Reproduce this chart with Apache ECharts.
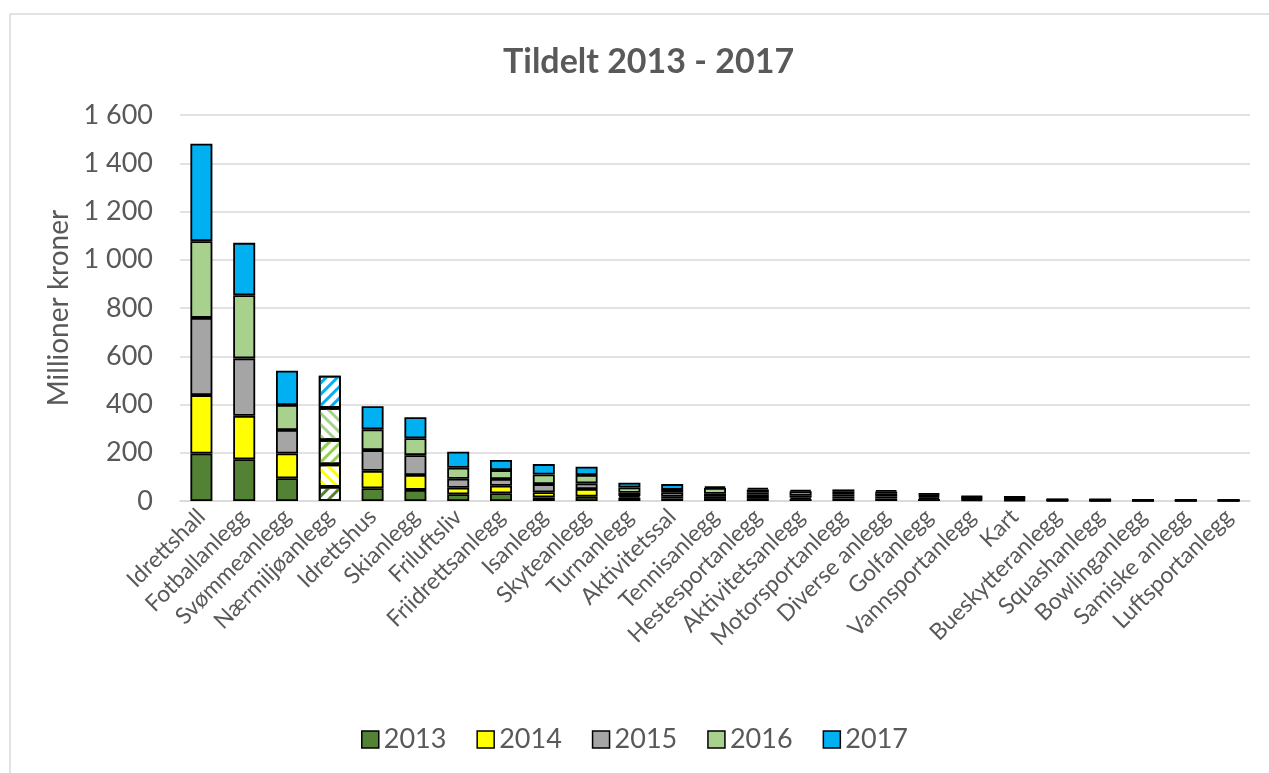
<!DOCTYPE html>
<html>
<head>
<meta charset="utf-8">
<script src="https://cdn.jsdelivr.net/npm/echarts@6/dist/echarts.min.js"></script>
<style>
html,body{margin:0;padding:0;background:#fff;}
#chart{width:1269px;height:773px;}
</style>
</head>
<body>
<div id="chart"></div>
<script>
const categories = ['Idrettshall','Fotballanlegg','Svømmeanlegg','Nærmiljøanlegg','Idrettshus','Skianlegg','Friluftsliv','Friidrettsanlegg','Isanlegg','Skyteanlegg','Turnanlegg','Aktivitetssal','Tennisanlegg','Hestesportanlegg','Aktivitetsanlegg','Motorsportanlegg','Diverse anlegg','Golfanlegg','Vannsportanlegg','Kart','Bueskytteranlegg','Squashanlegg','Bowlinganlegg','Samiske anlegg','Luftsportanlegg'];
const years = ['2013','2014','2015','2016','2017'];
const v2013 = [197,173,94,59,53,46,28,32,15,18,14,10,12,12,8,10,10,8,5,4,2,1,1,1,1];
const v2014 = [242,180,103,93,72,62,27,31,21,32,6,8,8,14,6,8,8,7,4,4,1,2,1,1,1];
const v2015 = [320,238,97,101,86,82,37,28,34,23,14,18,10,10,8,10,12,6,4,3,2,1,1,1,1];
const v2016 = [318,262,104,133,86,70,46,37,40,35,22,10,24,12,18,10,9,6,4,4,1,2,1,0.5,0.5];
const v2017 = [404,217,142,133,96,87,66,42,43,34,20,24,6,7,6,10,6,5,4,3,1,1,0.5,0.5,0.5];
const yTicks = [0,200,400,600,800,1000,1200,1400,1600];
const yTickLabels = ['0','200','400','600','800','1 000','1 200','1 400','1 600'];

const seriesValues = [v2013,v2014,v2015,v2016,v2017];
const colors = ['#548235','#FFFF00','#A5A5A5','#A9D18E','#00B0F0'];
// hatched (Nærmiljøanlegg) stripe colours and directions
const hatchColors = ['#548235','#FFFF00','#92D050','#A9D18E','#00B0F0'];
const hatchRot = [-Math.PI/4, Math.PI/4, -Math.PI/4, Math.PI/4, -Math.PI/4];
const hatchIndex = categories.indexOf('Nærmiljøanlegg');

const FONT = 'Lato';
const TXT = '#595959';

const series = years.map((y, si) => ({
  name: y,
  type: 'bar',
  stack: 'total',
  barWidth: 22,
  itemStyle: {color: colors[si], borderColor: '#000', borderWidth: 1.8},
  emphasis: {disabled: true},
  data: seriesValues[si].map((v, i) => {
    if (i !== hatchIndex) return v;
    return {
      value: v,
      itemStyle: {
        color: '#ffffff',
        decal: {
          symbol: 'rect',
          symbolSize: 1,
          color: hatchColors[si],
          dashArrayX: [1, 0],
          dashArrayY: [3, 5],
          rotation: hatchRot[si]
        }
      }
    };
  })
}));

const chart = echarts.init(document.getElementById('chart'), null, {renderer: 'canvas'});
chart.setOption({
  animation: false,
  backgroundColor: '#fff',
  textStyle: {fontFamily: FONT},
  graphic: [{
    type: 'rect',
    shape: {x: 10, y: 14, width: 1300, height: 800},
    style: {fill: 'none', stroke: '#d9d9d9', lineWidth: 1.5},
    silent: true,
    z: -1
  }],
  title: {
    text: 'Tildelt 2013 - 2017',
    left: 498,
    top: 40,
    textStyle: {fontFamily: FONT, fontSize: 34, fontWeight: 'bold', color: TXT}
  },
  legend: {
    data: years,
    bottom: 15,
    left: 'center',
    itemWidth: 17,
    itemHeight: 17,
    itemGap: 30,
    icon: 'rect',
    itemStyle: {borderColor: '#000', borderWidth: 1.5},
    textStyle: {fontFamily: FONT, fontSize: 27, color: TXT, padding: [0,0,0,0]}
  },
  grid: {left: 180, right: 19, top: 115, bottom: 272, containLabel: false},
  xAxis: {
    type: 'category',
    data: categories,
    axisLine: {lineStyle: {color: '#d9d9d9', width: 1.5}},
    axisTick: {show: false},
    axisLabel: {
      interval: 0,
      rotate: 45,
      margin: 12,
      fontFamily: FONT,
      fontSize: 23,
      color: TXT
    }
  },
  yAxis: {
    type: 'value',
    min: 0,
    max: 1600,
    interval: 200,
    name: 'Millioner kroner',
    nameLocation: 'middle',
    nameRotate: 90,
    nameGap: 100,
    nameTextStyle: {fontFamily: FONT, fontSize: 28, color: TXT},
    axisLine: {show: false},
    axisTick: {show: false},
    splitLine: {lineStyle: {color: '#d9d9d9', width: 1.5}},
    axisLabel: {
      margin: 27,
      fontFamily: FONT,
      fontSize: 27,
      color: TXT,
      formatter: v => yTickLabels[yTicks.indexOf(v)]
    }
  },
  series: series
});
</script>
</body>
</html>
